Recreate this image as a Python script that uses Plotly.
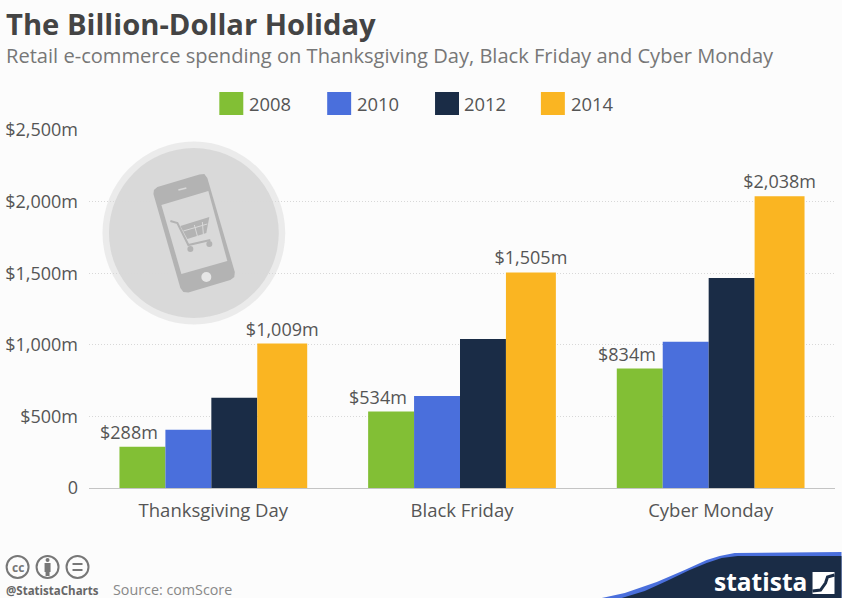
import plotly.graph_objects as go

categories = ["Thanksgiving Day", "Black Friday", "Cyber Monday"]
years = ["2008", "2010", "2012", "2014"]
values_2008 = [288, 534, 834]
values_2010 = [407, 642, 1022]
values_2012 = [630, 1040, 1466]
values_2014 = [1009, 1505, 2038]
series_values = [values_2008, values_2010, values_2012, values_2014]
y_ticks = [0, 500, 1000, 1500, 2000, 2500]
y_tick_labels = ["0", "$500m", "$1,000m", "$1,500m", "$2,000m", "$2,500m"]

colors = ["#82bf35", "#4a6fdc", "#1a2c46", "#fab522"]
W, H = 842, 598
L, R, T, B = 88.5, 835.5, 130, 488
FONT = "Open Sans"
BG = "#fcfcfc"


def X(p):
    return (p - L) / (R - L)


def Y(p):
    return (B - p) / (B - T)


def path(points, close=True):
    d = "M" + " L".join(f"{X(a):.5f},{Y(b):.5f}" for a, b in points)
    return d + (" Z" if close else "")


def poly(points, color):
    return dict(type="path", xref="paper", yref="paper", path=path(points), fillcolor=color, line_width=0, layer="above")


def polyline(points, color, w):
    return dict(type="path", xref="paper", yref="paper", path=path(points, False), line=dict(color=color, width=w), layer="above")


def circle(cx, cy, r, fill, line=None, w=0, layer="above", opacity=1):
    return dict(type="circle", xref="paper", yref="paper", x0=X(cx - r), x1=X(cx + r), y0=Y(cy + r), y1=Y(cy - r),
                fillcolor=fill, line=dict(color=line or fill, width=w), layer=layer, opacity=opacity)


def rect(x0, y0, x1, y1, fill):
    return dict(type="rect", xref="paper", yref="paper", x0=X(x0), x1=X(x1), y0=Y(y1), y1=Y(y0), fillcolor=fill, line_width=0, layer="above")


def text(x, y, s, size, color, anchor="left", bold=False):
    return dict(xref="paper", yref="paper", x=X(x), y=Y(y), text=f"<b>{s}</b>" if bold else s, showarrow=False,
                xanchor=anchor, yanchor="middle", font=dict(family=FONT, size=size, color=color), xshift=0, yshift=0,
                borderpad=0, borderwidth=0)


fig = go.Figure()
cat_w = (R - L) / 3
unit = 46 / cat_w
widths = [unit, unit, unit, 50 / cat_w]
offsets = [-94 / cat_w, -48 / cat_w, -2 / cat_w, 44 / cat_w]
for i, (yr, vals) in enumerate(zip(years, series_values)):
    labels = [f"${v:,}m" for v in vals] if i == 3 else None
    fig.add_bar(x=categories, y=vals, name=yr, marker=dict(color=colors[i], line_width=0), width=widths[i], offset=offsets[i],
                text=labels, textposition="outside" if i == 3 else "none", cliponaxis=False, constraintext="none",
                textfont=dict(family=FONT, size=18, color="#555555"))

shapes = []
# smartphone badge
shapes.append(circle(193.5, 233, 91.5, "#eaeaea", layer="between", opacity=0.95))
shapes.append(circle(193.5, 233, 85, "#d7d7d7", layer="between", opacity=0.93))
G = "#b3b3b3"
shapes.append(poly([(153, 194), (153.5, 190), (157, 187), (199, 174.5), (204, 174), (207, 178), (234.5, 272), (234, 277), (230, 280),
                    (188, 292.5), (183, 292), (180, 288)], G))
shapes.append(poly([(161, 205), (208, 191), (227, 261), (181, 274)], "#d9d9d9"))
shapes.append(circle(206, 277, 5, "#e6e6e6"))
shapes.append(polyline([(178, 190), (186, 188)], "#d9d9d9", 1.5))
shapes.append(polyline([(170, 221), (177, 223), (188, 245), (210, 240)], G, 2))
shapes.append(poly([(180, 226), (209, 217), (206, 233), (187, 239)], G))
shapes.append(polyline([(183, 231), (207, 224)], "#d9d9d9", 1))
shapes.append(polyline([(194, 225), (197, 236)], "#d9d9d9", 1))
shapes.append(polyline([(202, 222), (203, 234)], "#d9d9d9", 1))
shapes.append(circle(190, 249, 3, G))
shapes.append(circle(209, 244, 3, G))
# legend
legend_boxes = [219, 327, 435, 541]
legend_texts = [249, 356.5, 464, 571]
for i, yr in enumerate(years):
    shapes.append(rect(legend_boxes[i], 92, legend_boxes[i] + 24, 115, colors[i]))
# licence icons
for cx in (17, 47, 77):
    shapes.append(circle(cx, 567, 11, "rgba(0,0,0,0)", "#777777", 2))
shapes.append(circle(47, 560, 2, "#777777"))
shapes.append(rect(44, 563, 50, 572, "#777777"))
shapes.append(rect(45, 572, 49, 576, "#777777"))
shapes.append(rect(72, 563, 82, 565, "#777777"))
shapes.append(rect(72, 569, 82, 571, "#777777"))
# footer swoosh
shapes.append(poly([(602, 598), (625, 593), (657, 582), (685, 570), (707, 560), (720, 556), (735, 553), (842, 552), (842, 598)], "#4a6fdc"))
shapes.append(poly([(622, 598), (645, 591), (667, 581), (690, 570), (707, 563), (722, 558), (738, 556), (842, 556), (842, 598)], "#1a2c46"))
shapes.append(rect(813, 572, 835, 594, "#ffffff"))
shapes.append(polyline([(813, 591), (821, 590), (826, 583), (828, 577), (835, 575)], "#1a2c46", 3))

anns = [
    text(5, 24, "The Billion-Dollar Holiday", 29.2, "#444444", bold=True),
    text(5, 55.5, "Retail e-commerce spending on Thanksgiving Day, Black Friday and Cyber Monday", 20.1, "#777777"),
    text(5, 590, "@StatistaCharts", 11.5, "#666666", bold=True),
    text(113, 589, "Source: comScore", 14.3, "#888888"),
    text(17, 567, "cc", 12, "#777777", "center", True),
    text(761, 581, "statista", 24.5, "#ffffff", "center", True),
]
for i, yr in enumerate(years):
    anns.append(text(legend_texts[i], 103.5, yr, 18.4, "#555555"))
for c, v in zip(categories, values_2008):
    anns.append(dict(x=c, y=v, xref="x", yref="y", text=f"${v:,}m", showarrow=False, yanchor="bottom", xshift=-84, yshift=1,
                     font=dict(family=FONT, size=18, color="#555555")))

fig.update_layout(
    width=W, height=H, autosize=False, showlegend=False, barmode="group",
    margin=dict(l=L, r=W - R, t=T, b=H - B, pad=0), paper_bgcolor=BG, plot_bgcolor=BG,
    font=dict(family=FONT, color="#555555"), shapes=shapes, annotations=anns,
    xaxis=dict(type="category", categoryorder="array", categoryarray=categories, showline=True, linecolor="#c4c4c4", linewidth=1,
               ticks="", tickfont=dict(family=FONT, size=18.5, color="#555555"), ticklabelstandoff=6),
    yaxis=dict(range=[0, 2500], tickvals=y_ticks, ticktext=y_tick_labels, gridcolor="#d8d8d8", griddash="1px,2px", gridwidth=1, zeroline=False,
               ticks="", tickfont=dict(family=FONT, size=18, color="#555555"), ticklabelstandoff=10),
)
fig.write_html("out.html", post_script="document.body.style.margin='0';", config={"displayModeBar": False})
